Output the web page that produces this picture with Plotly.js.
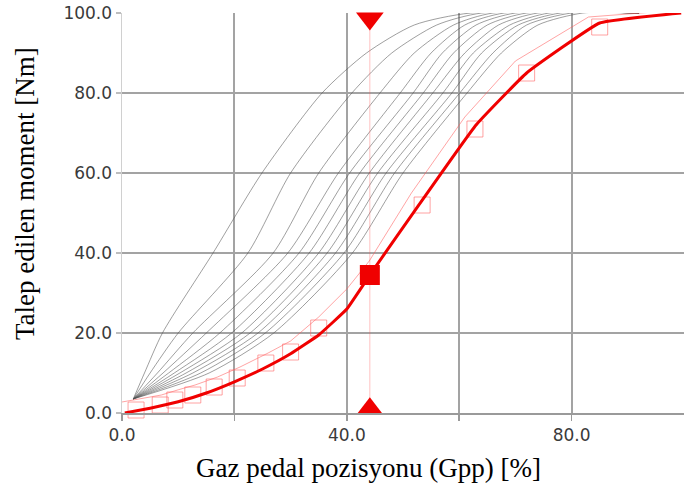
<!DOCTYPE html>
<html>
<head>
<meta charset="utf-8">
<script src="https://cdn.plot.ly/plotly-3.0.1.min.js"></script>
<style>html,body{margin:0;padding:0;background:#fff;}#chart{width:689px;height:492px;}</style>
</head>
<body>
<div id="chart"></div>
<script>
// ---- data ----
const xTickVals = [0, 40, 80];
const xTickText = ["0.0", "40.0", "80.0"];
const xGridVals = [20, 40, 60, 80];
const yTickVals = [0, 20, 40, 60, 80, 100];
const yTickText = ["0.0", "20.0", "40.0", "60.0", "80.0", "100.0"];
const yGridVals = [20, 40, 60, 80];

// gray family of curves (torque levels shared, pedal positions per curve)
const grayY = [3.5, 10, 20, 40, 60, 80, 90, 97, 100, 100];
const grayX1  = [2, 4.0, 7.2, 16.2, 24.9, 35.6, 43.5, 52, 62, 92];
const grayX2  = [2, 5.0, 10, 22.4, 30, 40.9, 48, 56, 64, 92];
const grayX3  = [2, 6.3, 12.6, 26.9, 35, 45.9, 52, 59, 66, 92];
const grayX4  = [2, 7.3, 15, 29.5, 38.5, 49.5, 55, 61, 68, 92];
const grayX5  = [2, 8.3, 17.4, 31.5, 40.5, 51.8, 57, 63, 70, 92];
const grayX6  = [2, 9.3, 19.5, 33.3, 42.3, 53.6, 59, 65, 72, 92];
const grayX7  = [2, 10.3, 21.3, 35, 44, 55.3, 61, 67, 74, 92];
const grayX8  = [2, 11.4, 22.8, 36.5, 45.5, 57.1, 62.5, 69, 76, 92];
const grayX9  = [2, 12.6, 24.2, 38, 47, 58.7, 64, 70.5, 78, 92];
const grayX10 = [2, 14, 25.5, 39.5, 48.5, 60.1, 66, 72, 80, 92];
const grayX11 = [2, 15.5, 27, 41, 50, 61.4, 67.5, 74, 82, 92];
const grayCurves = [grayX1, grayX2, grayX3, grayX4, grayX5, grayX6, grayX7, grayX8, grayX9, grayX10, grayX11];

// light red table line and its boxes
const pinkLineX = [-1, 3, 7, 10, 13, 17, 21, 26, 30, 35, 40, 44, 51.5, 61, 70, 83, 97, 100];
const pinkLineY = [2.5, 3.5, 4.5, 5.8, 7, 9, 11.5, 15, 18, 24, 31, 38, 55, 74, 88, 99, 100.5, 100.5];
const pinkBoxX = [-0.9, 2.5, 6.8, 9.4, 12.6, 16.4, 20.5, 25.6, 30, 35, 53.4, 62.8, 72, 85, 98.5];
const pinkBoxY = [0, 0.75, 2, 3.25, 4.5, 6.5, 8.75, 12.5, 15.25, 21.25, 52, 71, 85, 96.5, 100.5];

// active red curve
const redX = [0.5, 5, 10, 15, 20, 25, 30, 35, 40, 44.1, 63, 72, 85, 99.5];
const redY = [0, 1.2, 2.8, 5, 7.8, 11, 14.8, 19.5, 26, 34.5, 72, 85, 97.5, 100];

// cursor
const cursorX = [44.1];
const cursorY = [34.5];
const cursorLineY = [0, 100];
const markTopY = [98.6];
const markBotY = [1.3];

// ---- traces ----
const traces = [];
grayCurves.forEach(gx => {
  traces.push({
    x: gx, y: grayY, type: 'scatter', mode: 'lines',
    line: {color: 'rgba(80,80,80,0.55)', width: 1, shape: 'spline', smoothing: 0.7},
    hoverinfo: 'skip', showlegend: false
  });
});
traces.push({
  x: pinkLineX, y: pinkLineY, type: 'scatter', mode: 'lines',
  line: {color: 'rgba(255,90,90,0.55)', width: 1},
  showlegend: false, cliponaxis: false
});
traces.push({
  x: pinkBoxX, y: pinkBoxY, type: 'scatter', mode: 'markers',
  marker: {symbol: 'square-open', size: 16, color: 'rgba(255,100,100,0.6)', line: {width: 1}},
  showlegend: false, cliponaxis: false
});
traces.push({
  x: [cursorX[0], cursorX[0]], y: cursorLineY, type: 'scatter', mode: 'lines',
  line: {color: 'rgba(255,80,80,0.35)', width: 1},
  showlegend: false
});
traces.push({
  x: redX, y: redY, type: 'scatter', mode: 'lines',
  line: {color: '#f00000', width: 3, shape: 'spline', smoothing: 0.3},
  showlegend: false, cliponaxis: false
});
traces.push({
  x: cursorX, y: cursorY, type: 'scatter', mode: 'markers',
  marker: {symbol: 'square', size: 20, color: '#f00000'},
  showlegend: false, cliponaxis: false
});
traces.push({
  x: cursorX, y: markTopY, type: 'scatter', mode: 'markers',
  marker: {symbol: 'triangle-down', size: 24, color: '#f00000'},
  showlegend: false, cliponaxis: false
});
traces.push({
  x: cursorX, y: markBotY, type: 'scatter', mode: 'markers',
  marker: {symbol: 'triangle-up', size: 21, color: '#f00000'},
  showlegend: false, cliponaxis: false
});

const tickFont = {family: 'DejaVu Sans, sans-serif', size: 17, color: '#3a3a3a'};
const titleFont = {family: 'Liberation Serif, Times New Roman, serif', size: 27, color: '#000'};

const layout = {
  width: 689, height: 492,
  margin: {l: 122, r: 5, t: 13, b: 79},
  paper_bgcolor: '#fff', plot_bgcolor: '#fff',
  xaxis: {
    range: [0, 100], tickmode: 'array', tickvals: xTickVals, ticktext: xTickText,
    showgrid: false, zeroline: false,
    showline: true, linecolor: '#9a9a9a', linewidth: 1.5,
    ticks: 'outside', ticklen: 6, tickcolor: '#9a9a9a', tickwidth: 1.5,
    tickfont: tickFont,
    minor: {tickmode: 'array', tickvals: xGridVals, showgrid: true, gridcolor: '#a3a3a3', gridwidth: 2,
            ticks: 'outside', ticklen: 6, tickcolor: '#9a9a9a'},
    fixedrange: true
  },
  yaxis: {
    range: [0, 100], tickmode: 'array', tickvals: yTickVals, ticktext: yTickText,
    showgrid: false, zeroline: false,
    showline: true, linecolor: '#d0d0d0', linewidth: 1.5,
    ticks: 'outside', ticklen: 5, tickcolor: '#bdbdbd', tickwidth: 1.5,
    tickfont: tickFont,
    minor: {tickmode: 'array', tickvals: yGridVals, showgrid: true, gridcolor: '#a3a3a3', gridwidth: 2},
    fixedrange: true
  },
  annotations: [
    {text: 'Gaz pedal pozisyonu (Gpp) [%]', xref: 'paper', yref: 'paper', x: 0.438, y: -0.1375,
     xanchor: 'center', yanchor: 'middle', showarrow: false, font: titleFont},
    {text: 'Talep edilen moment [Nm]', xref: 'paper', yref: 'paper', x: -0.1726, y: 0.55,
     xanchor: 'center', yanchor: 'middle', showarrow: false, textangle: -90, font: titleFont}
  ]
};

Plotly.newPlot('chart', traces, layout, {displayModeBar: false, staticPlot: true});
</script>
</body>
</html>
